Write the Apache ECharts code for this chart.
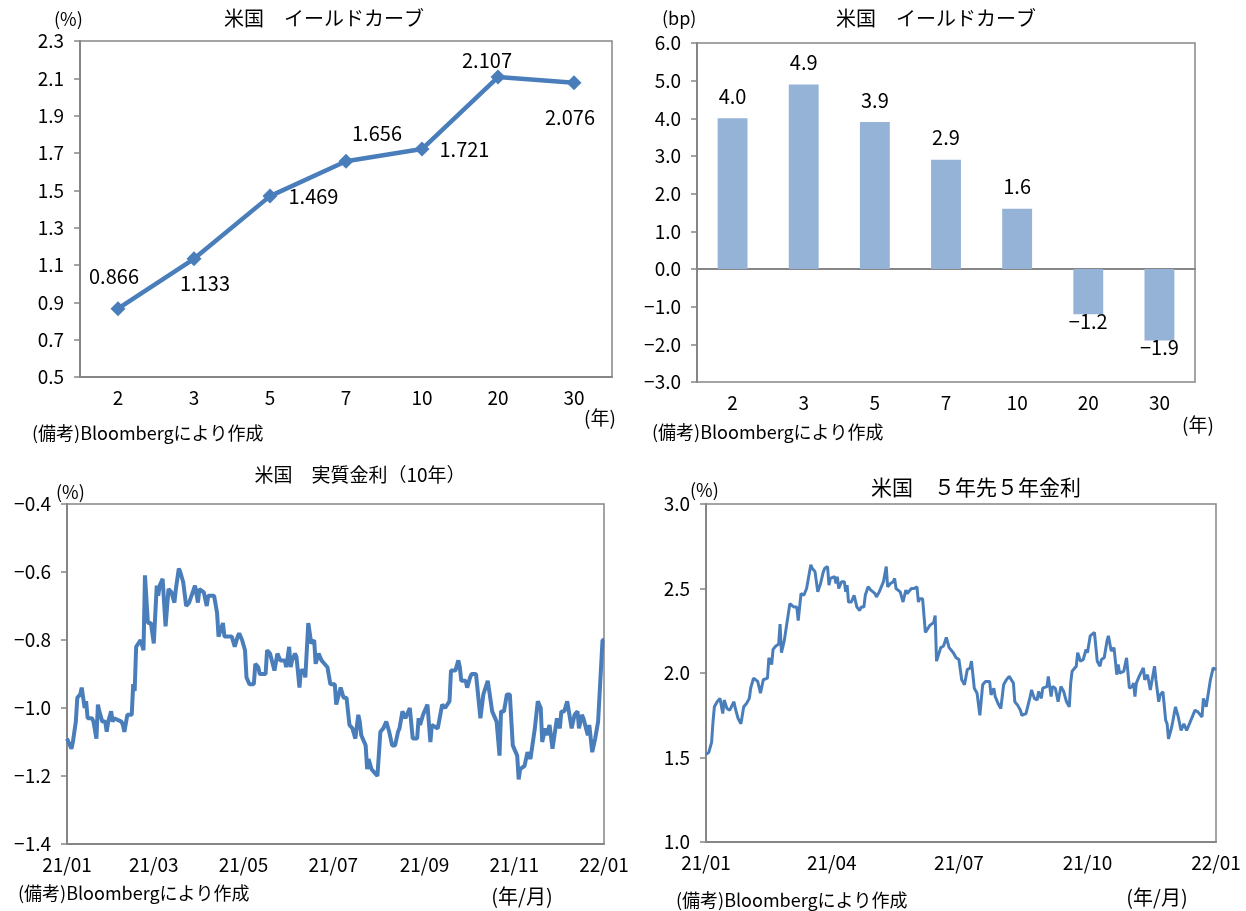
<!DOCTYPE html>
<html>
<head>
<meta charset="utf-8">
<script src="https://cdn.jsdelivr.net/npm/echarts@6/dist/echarts.min.js"></script>
<style>
html, body { margin: 0; padding: 0; background: #fff; }
#main { width: 1246px; height: 911px; }
</style>
</head>
<body>
<div id="main"></div>
<script>
// data
var curveYears = ['2', '3', '5', '7', '10', '20', '30']
var curveYield = [0.866, 1.133, 1.469, 1.656, 1.721, 2.107, 2.076]
var curveChange = [4.0, 4.9, 3.9, 2.9, 1.6, -1.2, -1.9]

var realTickDates = ['2021-01-01', '2021-03-01', '2021-05-01', '2021-07-01', '2021-09-01', '2021-11-01', '2022-01-01']
var realTickLabels = ['21/01', '21/03', '21/05', '21/07', '21/09', '21/11', '22/01']
var fwdTickDates = ['2021-01-01', '2021-04-01', '2021-07-01', '2021-10-01', '2022-01-01']
var fwdTickLabels = ['21/01', '21/04', '21/07', '21/10', '22/01']

var realRate10y = [
  ['2021-01-01', -1.09], ['2021-01-02', -1.10], ['2021-01-04', -1.12], ['2021-01-05', -1.10], ['2021-01-07', -1.04],
  ['2021-01-08', -0.97], ['2021-01-10', -0.96], ['2021-01-11', -0.94], ['2021-01-12', -0.97], ['2021-01-13', -1.00],
  ['2021-01-14', -0.98], ['2021-01-15', -1.03], ['2021-01-18', -1.03], ['2021-01-19', -1.04], ['2021-01-21', -1.09],
  ['2021-01-22', -0.99], ['2021-01-23', -1.01], ['2021-01-25', -1.04], ['2021-01-27', -1.04], ['2021-01-28', -1.07],
  ['2021-01-29', -1.04], ['2021-01-31', -1.01], ['2021-02-01', -1.04], ['2021-02-02', -1.03], ['2021-02-07', -1.04],
  ['2021-02-08', -1.05], ['2021-02-09', -1.07], ['2021-02-11', -1.02], ['2021-02-14', -1.02], ['2021-02-15', -0.93],
  ['2021-02-16', -0.95], ['2021-02-17', -0.82], ['2021-02-20', -0.80], ['2021-02-22', -0.83], ['2021-02-23', -0.61],
  ['2021-02-25', -0.75], ['2021-02-27', -0.75], ['2021-03-01', -0.81], ['2021-03-03', -0.64], ['2021-03-04', -0.67],
  ['2021-03-05', -0.64], ['2021-03-07', -0.62], ['2021-03-09', -0.76], ['2021-03-10', -0.76], ['2021-03-11', -0.65],
  ['2021-03-13', -0.66], ['2021-03-15', -0.69], ['2021-03-16', -0.65], ['2021-03-18', -0.59], ['2021-03-19', -0.60],
  ['2021-03-21', -0.63], ['2021-03-23', -0.70], ['2021-03-25', -0.69], ['2021-03-29', -0.64], ['2021-03-31', -0.69],
  ['2021-04-01', -0.65], ['2021-04-04', -0.66], ['2021-04-06', -0.70], ['2021-04-07', -0.67], ['2021-04-11', -0.67],
  ['2021-04-13', -0.72], ['2021-04-14', -0.79], ['2021-04-17', -0.75], ['2021-04-18', -0.79], ['2021-04-21', -0.79],
  ['2021-04-23', -0.79], ['2021-04-25', -0.82], ['2021-04-27', -0.79], ['2021-04-28', -0.78], ['2021-04-30', -0.80],
  ['2021-05-02', -0.83], ['2021-05-03', -0.91], ['2021-05-04', -0.91], ['2021-05-05', -0.93], ['2021-05-08', -0.93],
  ['2021-05-09', -0.87], ['2021-05-11', -0.88], ['2021-05-12', -0.90], ['2021-05-16', -0.90], ['2021-05-17', -0.83],
  ['2021-05-19', -0.84], ['2021-05-22', -0.89], ['2021-05-24', -0.84], ['2021-05-26', -0.86], ['2021-05-29', -0.86],
  ['2021-05-30', -0.88], ['2021-06-01', -0.82], ['2021-06-02', -0.88], ['2021-06-03', -0.86], ['2021-06-05', -0.84],
  ['2021-06-06', -0.85], ['2021-06-08', -0.94], ['2021-06-09', -0.89], ['2021-06-11', -0.89], ['2021-06-12', -0.91],
  ['2021-06-14', -0.75], ['2021-06-16', -0.81], ['2021-06-18', -0.80], ['2021-06-19', -0.87], ['2021-06-21', -0.84],
  ['2021-06-23', -0.86], ['2021-06-25', -0.87], ['2021-06-27', -0.88], ['2021-06-29', -0.93], ['2021-07-02', -0.93],
  ['2021-07-03', -0.99], ['2021-07-06', -0.94], ['2021-07-08', -0.97], ['2021-07-10', -0.97], ['2021-07-12', -1.05],
  ['2021-07-14', -1.06], ['2021-07-16', -1.09], ['2021-07-18', -1.02], ['2021-07-19', -1.04], ['2021-07-20', -1.08],
  ['2021-07-23', -1.11], ['2021-07-24', -1.18], ['2021-07-25', -1.15], ['2021-07-27', -1.18], ['2021-07-29', -1.19],
  ['2021-07-31', -1.20], ['2021-08-02', -1.07], ['2021-08-04', -1.06], ['2021-08-06', -1.04], ['2021-08-08', -1.07],
  ['2021-08-10', -1.11], ['2021-08-12', -1.11], ['2021-08-14', -1.07], ['2021-08-15', -1.06], ['2021-08-17', -1.01],
  ['2021-08-19', -1.03], ['2021-08-20', -1.03], ['2021-08-22', -1.00], ['2021-08-24', -1.09], ['2021-08-27', -1.09],
  ['2021-08-28', -1.03], ['2021-08-29', -1.05], ['2021-08-31', -1.02], ['2021-09-01', -1.02], ['2021-09-03', -0.99],
  ['2021-09-05', -1.10], ['2021-09-06', -1.05], ['2021-09-10', -1.06], ['2021-09-13', -0.99], ['2021-09-15', -1.00],
  ['2021-09-18', -0.98], ['2021-09-19', -0.89], ['2021-09-22', -0.89], ['2021-09-24', -0.86], ['2021-09-25', -0.88],
  ['2021-09-26', -0.92], ['2021-09-29', -0.92], ['2021-09-30', -0.94], ['2021-10-02', -0.91], ['2021-10-03', -0.90],
  ['2021-10-06', -0.90], ['2021-10-09', -1.03], ['2021-10-11', -0.96], ['2021-10-14', -0.92], ['2021-10-15', -0.95],
  ['2021-10-17', -1.01], ['2021-10-20', -1.04], ['2021-10-22', -1.14], ['2021-10-23', -1.01], ['2021-10-25', -1.01],
  ['2021-10-27', -0.96], ['2021-10-29', -0.96], ['2021-10-31', -1.11], ['2021-11-03', -1.14], ['2021-11-04', -1.21],
  ['2021-11-05', -1.18], ['2021-11-08', -1.17], ['2021-11-10', -1.13], ['2021-11-12', -1.15], ['2021-11-15', -1.06],
  ['2021-11-17', -0.98], ['2021-11-19', -1.00], ['2021-11-20', -1.10], ['2021-11-22', -1.06], ['2021-11-23', -1.08],
  ['2021-11-25', -1.05], ['2021-11-27', -1.12], ['2021-11-30', -1.03], ['2021-12-02', -1.06], ['2021-12-03', -1.01],
  ['2021-12-05', -1.01], ['2021-12-07', -0.98], ['2021-12-10', -1.06], ['2021-12-12', -1.02], ['2021-12-14', -1.01],
  ['2021-12-15', -1.06], ['2021-12-17', -1.02], ['2021-12-18', -1.03], ['2021-12-21', -1.08], ['2021-12-22', -1.05],
  ['2021-12-24', -1.13], ['2021-12-26', -1.09], ['2021-12-28', -1.04], ['2021-12-30', -0.88], ['2021-12-31', -0.80],
  ['2022-01-01', -0.80]
]

var fwd5y5y = [
  ['2021-01-01', 1.52], ['2021-01-03', 1.53], ['2021-01-05', 1.59], ['2021-01-06', 1.71], ['2021-01-07', 1.80],
  ['2021-01-09', 1.83], ['2021-01-11', 1.85], ['2021-01-13', 1.76], ['2021-01-14', 1.84], ['2021-01-16', 1.79],
  ['2021-01-18', 1.78], ['2021-01-21', 1.83], ['2021-01-22', 1.79], ['2021-01-24', 1.73], ['2021-01-26', 1.70],
  ['2021-01-28', 1.80], ['2021-01-30', 1.82], ['2021-02-01', 1.85], ['2021-02-02', 1.91], ['2021-02-04', 1.97],
  ['2021-02-07', 1.95], ['2021-02-09', 1.88], ['2021-02-11', 1.96], ['2021-02-14', 1.97], ['2021-02-15', 2.09],
  ['2021-02-17', 2.05], ['2021-02-18', 2.14], ['2021-02-20', 2.16], ['2021-02-22', 2.17], ['2021-02-23', 2.29],
  ['2021-02-24', 2.12], ['2021-02-26', 2.19], ['2021-02-27', 2.20], ['2021-03-02', 2.41], ['2021-03-05', 2.39],
  ['2021-03-07', 2.39], ['2021-03-08', 2.31], ['2021-03-10', 2.47], ['2021-03-12', 2.46], ['2021-03-14', 2.50],
  ['2021-03-17', 2.64], ['2021-03-18', 2.62], ['2021-03-20', 2.60], ['2021-03-22', 2.48], ['2021-03-24', 2.53],
  ['2021-03-26', 2.60], ['2021-03-27', 2.62], ['2021-03-29', 2.63], ['2021-03-30', 2.52], ['2021-03-31', 2.56],
  ['2021-04-03', 2.57], ['2021-04-04', 2.53], ['2021-04-05', 2.57], ['2021-04-06', 2.50], ['2021-04-08', 2.54],
  ['2021-04-10', 2.54], ['2021-04-11', 2.48], ['2021-04-12', 2.52], ['2021-04-13', 2.42], ['2021-04-15', 2.42],
  ['2021-04-17', 2.46], ['2021-04-19', 2.39], ['2021-04-21', 2.37], ['2021-04-22', 2.39], ['2021-04-24', 2.39],
  ['2021-04-25', 2.46], ['2021-04-27', 2.51], ['2021-04-29', 2.49], ['2021-05-02', 2.47], ['2021-05-03', 2.45],
  ['2021-05-05', 2.48], ['2021-05-07', 2.52], ['2021-05-08', 2.54], ['2021-05-10', 2.63], ['2021-05-11', 2.51],
  ['2021-05-13', 2.53], ['2021-05-15', 2.54], ['2021-05-16', 2.56], ['2021-05-17', 2.50], ['2021-05-20', 2.48],
  ['2021-05-22', 2.42], ['2021-05-24', 2.49], ['2021-05-25', 2.47], ['2021-05-28', 2.50], ['2021-05-30', 2.50],
  ['2021-06-01', 2.51], ['2021-06-02', 2.42], ['2021-06-03', 2.44], ['2021-06-05', 2.44], ['2021-06-07', 2.24],
  ['2021-06-10', 2.28], ['2021-06-13', 2.30], ['2021-06-14', 2.34], ['2021-06-15', 2.07], ['2021-06-18', 2.15],
  ['2021-06-20', 2.16], ['2021-06-22', 2.21], ['2021-06-24', 2.15], ['2021-06-27', 2.12], ['2021-06-29', 2.09],
  ['2021-07-01', 2.08], ['2021-07-03', 1.96], ['2021-07-05', 1.93], ['2021-07-07', 2.02], ['2021-07-09', 2.03],
  ['2021-07-10', 2.07], ['2021-07-12', 1.91], ['2021-07-14', 1.88], ['2021-07-16', 1.75], ['2021-07-18', 1.93],
  ['2021-07-20', 1.95], ['2021-07-23', 1.95], ['2021-07-24', 1.87], ['2021-07-26', 1.91], ['2021-07-27', 1.86],
  ['2021-07-29', 1.82], ['2021-07-31', 1.79], ['2021-08-02', 1.93], ['2021-08-04', 1.96], ['2021-08-06', 1.98],
  ['2021-08-09', 1.94], ['2021-08-10', 1.83], ['2021-08-12', 1.81], ['2021-08-14', 1.78], ['2021-08-15', 1.75],
  ['2021-08-18', 1.76], ['2021-08-19', 1.77], ['2021-08-21', 1.86], ['2021-08-22', 1.90], ['2021-08-24', 1.85],
  ['2021-08-26', 1.84], ['2021-08-27', 1.89], ['2021-08-29', 1.85], ['2021-08-30', 1.91], ['2021-09-02', 1.92],
  ['2021-09-03', 1.98], ['2021-09-05', 1.86], ['2021-09-06', 1.92], ['2021-09-08', 1.91], ['2021-09-10', 1.83],
  ['2021-09-12', 1.92], ['2021-09-14', 1.89], ['2021-09-16', 1.83], ['2021-09-18', 1.80], ['2021-09-19', 1.94],
  ['2021-09-20', 2.01], ['2021-09-23', 2.04], ['2021-09-24', 2.12], ['2021-09-26', 2.07], ['2021-09-28', 2.08],
  ['2021-09-29', 2.09], ['2021-09-30', 2.14], ['2021-10-01', 2.12], ['2021-10-03', 2.22], ['2021-10-06', 2.24],
  ['2021-10-08', 2.07], ['2021-10-10', 2.04], ['2021-10-11', 2.08], ['2021-10-13', 2.09], ['2021-10-15', 2.19],
  ['2021-10-16', 2.22], ['2021-10-18', 2.13], ['2021-10-20', 2.15], ['2021-10-22', 1.99], ['2021-10-23', 2.05],
  ['2021-10-24', 2.00], ['2021-10-27', 2.01], ['2021-10-29', 2.09], ['2021-10-31', 1.91], ['2021-11-02', 1.92],
  ['2021-11-03', 1.94], ['2021-11-04', 1.86], ['2021-11-05', 1.94], ['2021-11-07', 1.98], ['2021-11-10', 2.03],
  ['2021-11-11', 1.96], ['2021-11-13', 1.99], ['2021-11-15', 1.90], ['2021-11-18', 2.04], ['2021-11-19', 1.96],
  ['2021-11-21', 1.83], ['2021-11-22', 1.87], ['2021-11-24', 1.89], ['2021-11-26', 1.72], ['2021-11-27', 1.70],
  ['2021-11-28', 1.61], ['2021-11-30', 1.67], ['2021-12-01', 1.71], ['2021-12-03', 1.80], ['2021-12-05', 1.74],
  ['2021-12-07', 1.66], ['2021-12-09', 1.70], ['2021-12-11', 1.66], ['2021-12-13', 1.70], ['2021-12-15', 1.74],
  ['2021-12-16', 1.73], ['2021-12-17', 1.78], ['2021-12-19', 1.77], ['2021-12-22', 1.74], ['2021-12-23', 1.85],
  ['2021-12-25', 1.80], ['2021-12-28', 1.96], ['2021-12-30', 2.03], ['2022-01-01', 2.02]
]

var FONT = '"Noto Sans CJK JP", "Noto Sans", sans-serif'
var BLUE = '#4a7ebb'
var BAR = '#95b3d7'
var AXIS = '#868686'

// dates as day numbers since 2021-01-01 (UTC, so no DST drift)
var DAY0 = Date.UTC(2021, 0, 1)
function dayOf(s) {
  var p = s.split('-')
  return Math.round((Date.UTC(+p[0], +p[1] - 1, +p[2]) - DAY0) / 86400000)
}

function tickMap(dates, labels) {
  var m = {}
  dates.forEach(function (d, i) { m[dayOf(d)] = labels[i] })
  return m
}
var realMap = tickMap(realTickDates, realTickLabels)
var fwdMap = tickMap(fwdTickDates, fwdTickLabels)

// long minus like the original
function num(v, d) {
  return v.toFixed(d).replace('-', '\u2212')
}

function txt(x, y, s, align, size) {
  return {
    type: 'text', x: x, y: y, silent: true,
    style: {
      text: s, font: (size || 18) + 'px ' + FONT, fill: '#000',
      align: align || 'left', verticalAlign: 'middle',
      textAlign: align || 'left', textVerticalAlign: 'middle'
    }
  }
}

function yAxisOf(gi, min, max, step) {
  return {
    type: 'value', gridIndex: gi, min: min, max: max, interval: step,
    axisLine: { show: true, lineStyle: { color: AXIS, width: 2 } },
    axisTick: { show: true, length: 6, lineStyle: { color: AXIS, width: 1.5 } },
    splitLine: { show: false },
    axisLabel: {
      margin: 16, color: '#000', fontSize: 19, fontFamily: FONT,
      formatter: function (v) { return num(v, 1) }
    }
  }
}

function dateAxisOf(gi, dates, map) {
  var days = dates.map(dayOf)
  return {
    type: 'value', gridIndex: gi, min: days[0], max: days[days.length - 1],
    axisLine: { show: true, lineStyle: { color: AXIS, width: 2 } },
    axisTick: { show: false },
    splitLine: { show: false },
    axisLabel: {
      margin: 11, color: '#000', fontSize: 19, fontFamily: FONT,
      showMinLabel: true, showMaxLabel: true,
      customValues: days,
      formatter: function (v) { return map[Math.round(v)] || '' }
    }
  }
}

function catAxisOf(gi) {
  return {
    type: 'category', gridIndex: gi, data: curveYears,
    axisLine: { show: true, lineStyle: { color: AXIS, width: 2 } },
    axisTick: { show: false },
    axisLabel: { margin: 11, color: '#000', fontSize: 19, fontFamily: FONT }
  }
}

// label placement for the yield points (position, offset)
var curveLabelPos = ['top', 'bottom', 'right', 'top', 'right', 'top', 'bottom']
var curveLabelOff = [[-4, -10], [11, 2], [6, 0], [31, -5], [5, 0], [-11, 6], [-4, 12]]

var grid = { show: true, borderColor: AXIS, borderWidth: 1.5, containLabel: false }

var chart = echarts.init(document.getElementById('main'))
chart.setOption({
  backgroundColor: '#fff',
  animation: false,
  grid: [
    Object.assign({ left: 80, top: 41, width: 532, height: 336 }, grid),
    Object.assign({ left: 697, top: 43, width: 498, height: 339 }, grid),
    Object.assign({ left: 67, top: 504, width: 537, height: 340 }, grid),
    Object.assign({ left: 706, top: 504, width: 510, height: 338 }, grid)
  ],
  xAxis: [
    catAxisOf(0),
    catAxisOf(1),
    dateAxisOf(2, realTickDates, realMap),
    dateAxisOf(3, fwdTickDates, fwdMap)
  ],
  yAxis: [
    yAxisOf(0, 0.5, 2.3, 0.2),
    yAxisOf(1, -3, 6, 1),
    yAxisOf(2, -1.4, -0.4, 0.2),
    yAxisOf(3, 1.0, 3.0, 0.5)
  ],
  series: [
    {
      type: 'line', xAxisIndex: 0, yAxisIndex: 0,
      data: curveYield.map(function (v, i) {
        return { value: v, label: { position: curveLabelPos[i], offset: curveLabelOff[i] } }
      }),
      symbol: 'diamond', symbolSize: 15,
      itemStyle: { color: BLUE },
      lineStyle: { color: BLUE, width: 4.5 },
      label: {
        show: true, color: '#000', fontSize: 20, fontFamily: FONT,
        formatter: function (p) { return num(p.value, 3) }
      }
    },
    {
      type: 'bar', xAxisIndex: 1, yAxisIndex: 1, barWidth: '42%',
      data: curveChange.map(function (v) {
        return { value: v, label: v < 0 ? { position: 'bottom', distance: -3 } : { position: 'top', distance: 12 } }
      }),
      itemStyle: { color: BAR },
      label: {
        show: true, color: '#000', fontSize: 20, fontFamily: FONT,
        formatter: function (p) { return num(p.value, 1) }
      }
    },
    {
      type: 'line', xAxisIndex: 2, yAxisIndex: 2,
      data: realRate10y.map(function (d) { return [dayOf(d[0]), d[1]] }),
      symbol: 'none', lineStyle: { color: BLUE, width: 4 }
    },
    {
      type: 'line', xAxisIndex: 3, yAxisIndex: 3,
      data: fwd5y5y.map(function (d) { return [dayOf(d[0]), d[1]] }),
      symbol: 'none', lineStyle: { color: BLUE, width: 3 }
    }
  ],
  graphic: [
    txt(54, 19, '(%)', 'left', 18),
    txt(324, 18, '米国　イールドカーブ', 'center', 20),
    txt(600, 418, '(年)', 'center', 19),
    txt(32, 433, '(備考)Bloombergにより作成', 'left', 18),

    txt(662, 18, '(bp)', 'left', 18),
    txt(936, 18, '米国　イールドカーブ', 'center', 20),
    txt(1198, 425, '(年)', 'center', 19),
    txt(652, 432, '(備考)Bloombergにより作成', 'left', 18),

    txt(56, 492, '(%)', 'left', 18),
    txt(360, 475, '米国　実質金利（10年）', 'center', 19),
    txt(18, 893, '(備考)Bloombergにより作成', 'left', 18),
    txt(522, 896, '(年/月)', 'center', 20),

    txt(690, 490, '(%)', 'left', 18),
    txt(976, 487, '米国　５年先５年金利', 'center', 21),
    txt(676, 900, '(備考)Bloombergにより作成', 'left', 18),
    txt(1157, 897, '(年/月)', 'center', 20)
  ]
})
</script>
</body>
</html>
